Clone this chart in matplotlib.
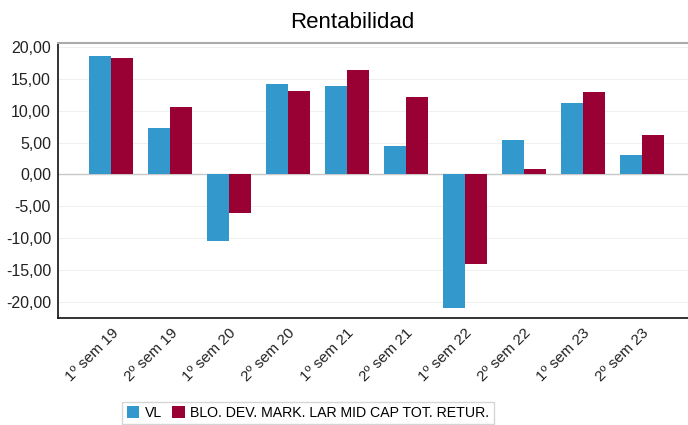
import matplotlib
matplotlib.use("Agg")
import matplotlib.pyplot as plt
import numpy as np

plt.rcParams["font.family"] = ["Liberation Sans", "DejaVu Sans"]

categories = ["1º sem 19", "2º sem 19", "1º sem 20", "2º sem 20", "1º sem 21",
              "2º sem 21", "1º sem 22", "2º sem 22", "1º sem 23", "2º sem 23"]
vl = [18.6, 7.3, -10.4, 14.1, 13.8, 4.5, -21.0, 5.4, 11.2, 3.0]
bench = [18.2, 10.6, -6.1, 13.1, 16.4, 12.2, -14.0, 0.85, 12.95, 6.2]
series_names = ["VL", "BLO. DEV. MARK. LAR MID CAP TOT. RETUR."]
yticks = [20, 15, 10, 5, 0, -5, -10, -15, -20]

blue = "#3399cc"
red = "#990033"

fig = plt.figure(figsize=(6.88, 4.25), dpi=100)
ax = fig.add_axes([58/688, 1-318/425, 1-58/688, (318-43)/425])

x = np.arange(len(categories))
w = 0.373
ax.bar(x - w/2, vl, w, color=blue, label=series_names[0], zorder=3)
ax.bar(x + w/2, bench, w, color=red, label=series_names[1], zorder=3)

ax.set_xlim(-0.9, 9.78)
ax.set_ylim(-22.5, 20.6)
ax.set_yticks(yticks)
ax.set_yticklabels([f"{v:.2f}".replace(".", ",") for v in yticks], fontsize=11.5, color="#222222")
ax.yaxis.grid(True, color="#f0f0f0", linewidth=0.8, zorder=0)
ax.axhline(0, color="#c8c8c8", linewidth=1, zorder=2)
ax.tick_params(axis="y", length=0, pad=5)
ax.tick_params(axis="x", length=0, pad=6)
ax.set_xticks(x)
ax.set_xticklabels(categories, rotation=45, ha="right", rotation_mode="anchor",
                   fontsize=11, color="#222222")

for s in ["left", "bottom"]:
    ax.spines[s].set_color("#111111")
    ax.spines[s].set_linewidth(1.2)
ax.spines["top"].set_color("#aaaaaa")
ax.spines["top"].set_linewidth(1.5)
ax.spines["right"].set_visible(False)

fig.text(352/688, 1-22/425, "Rentabilidad", ha="center", va="center", fontsize=16)

leg = fig.legend(loc="center", bbox_to_anchor=(308/688, 1-413/425), ncol=2,
                 fontsize=10.2, frameon=True, fancybox=False, handlelength=0.9,
                 handleheight=0.9, handletextpad=0.4, columnspacing=0.7,
                 borderpad=0.3, edgecolor="#cccccc")
leg.get_frame().set_linewidth(1)

fig.savefig("out.png", dpi=100)
